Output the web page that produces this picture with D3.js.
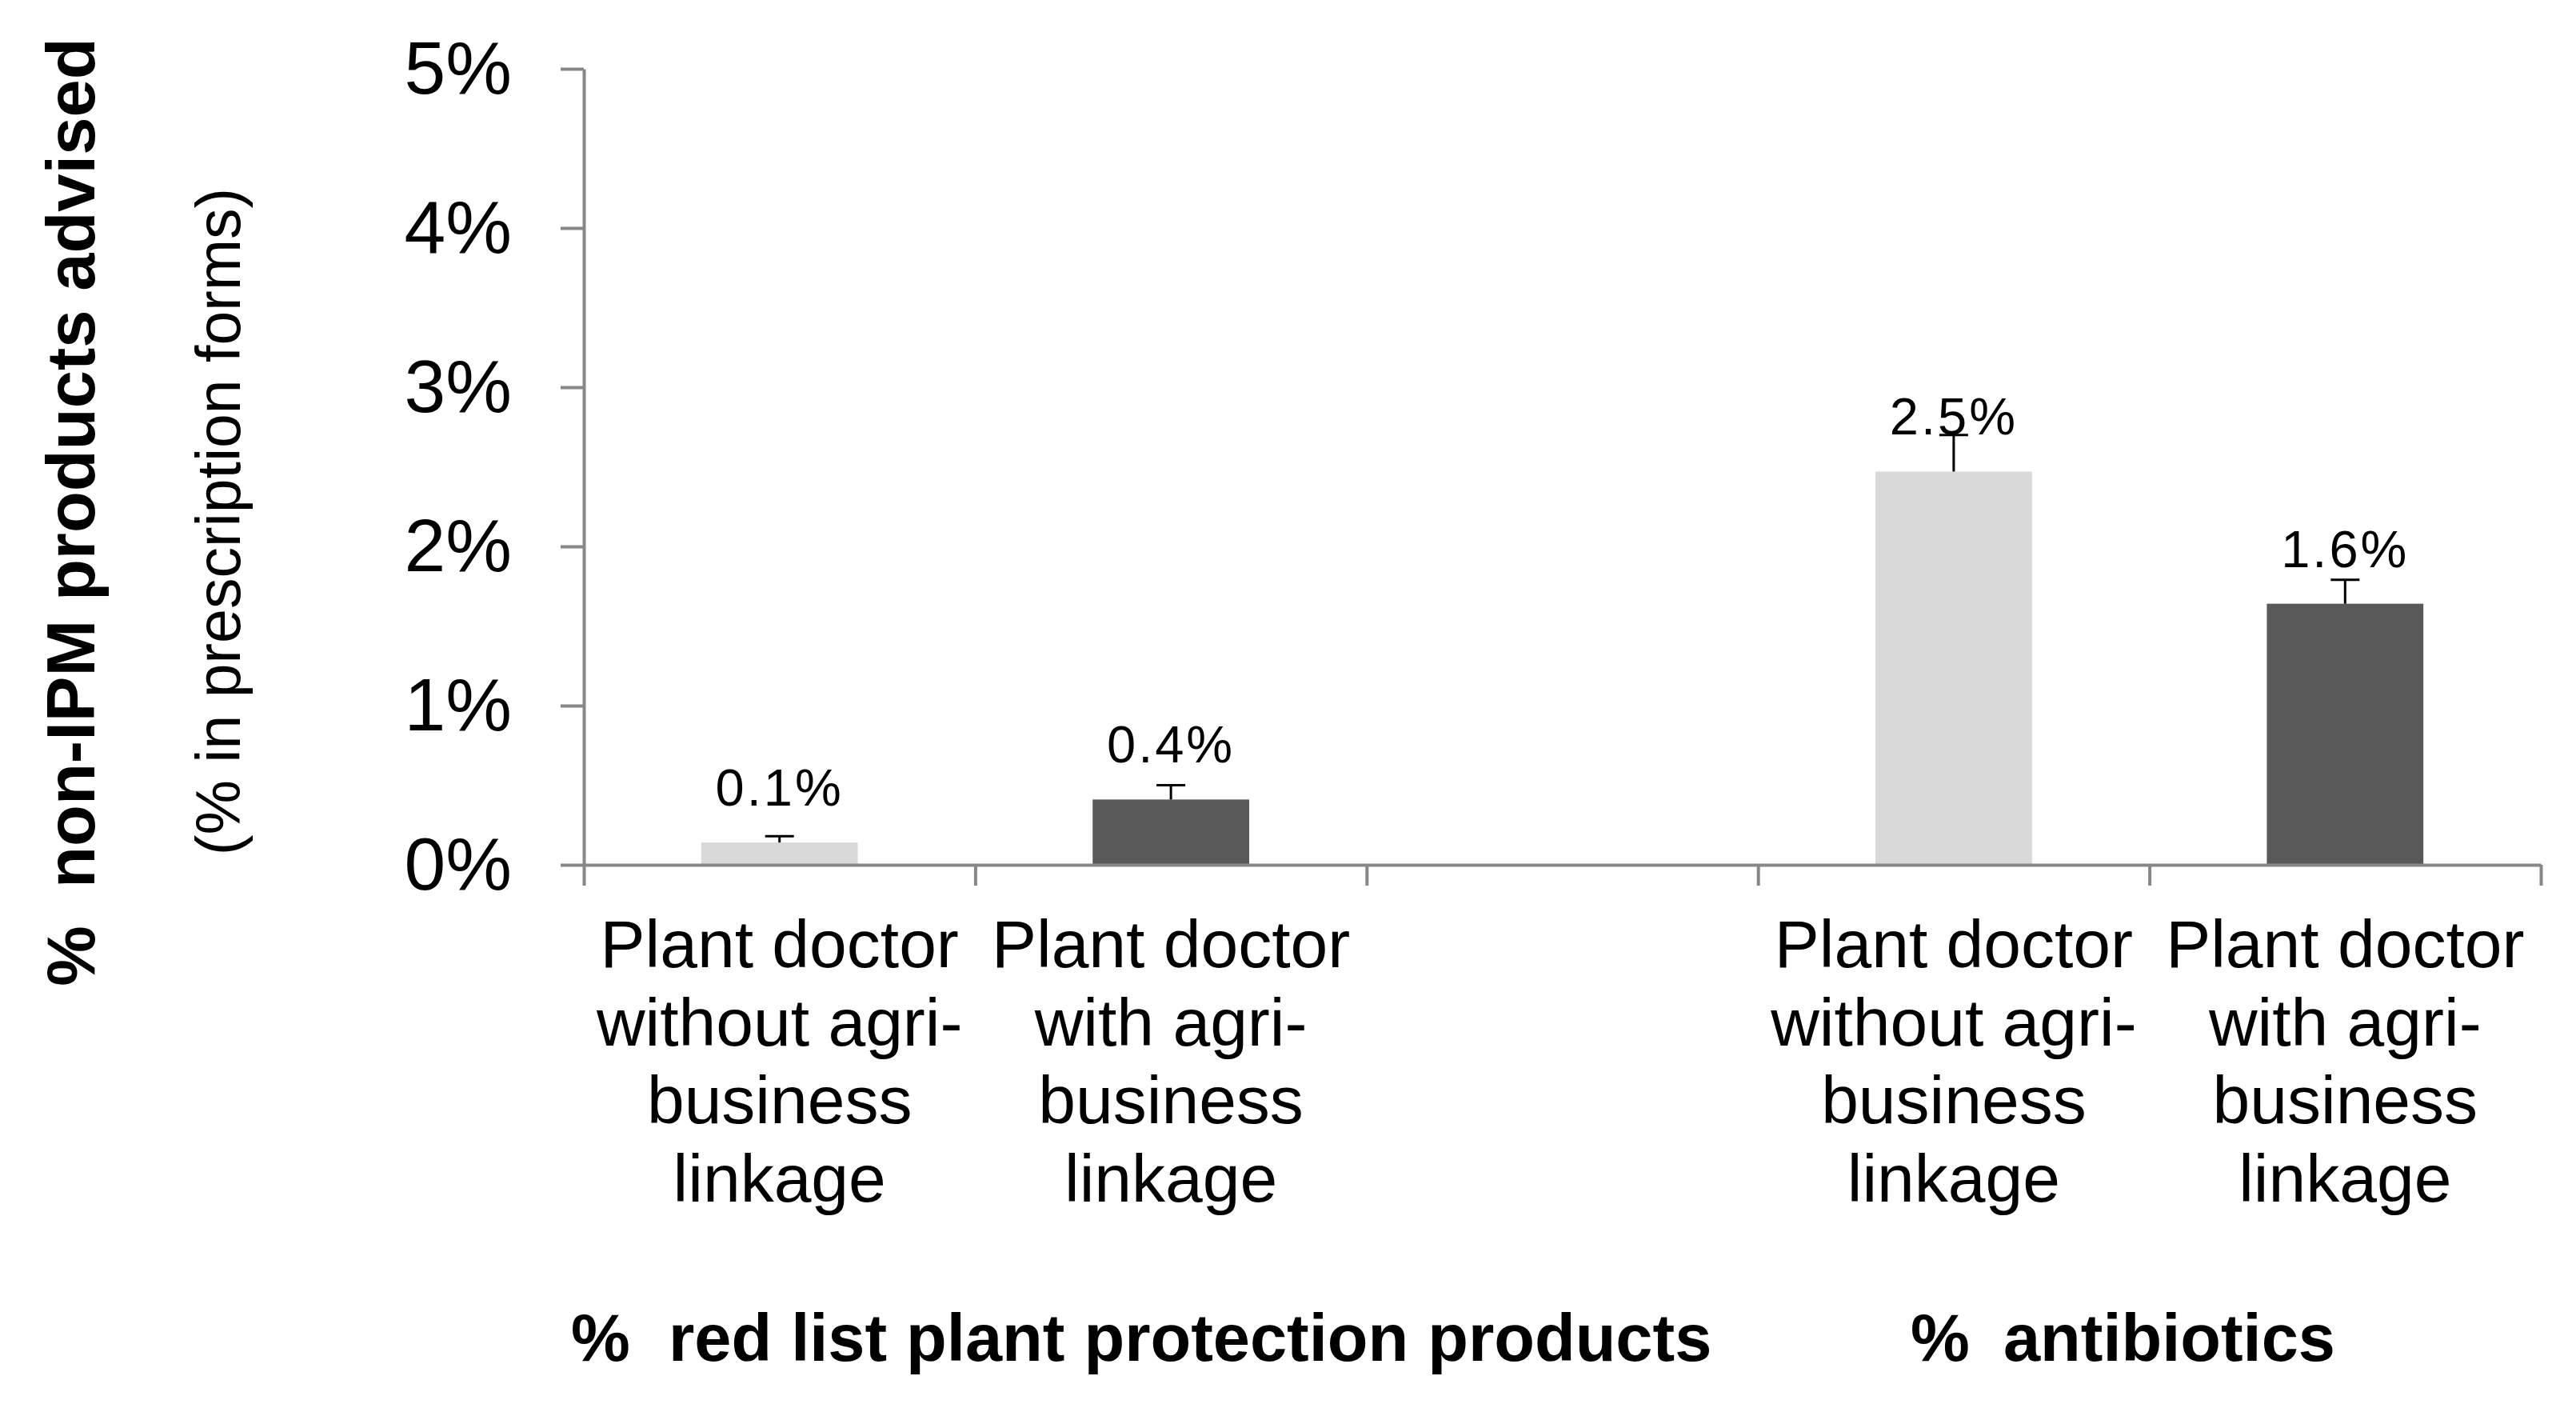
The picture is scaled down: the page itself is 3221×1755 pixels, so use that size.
<!DOCTYPE html>
<html>
<head>
<meta charset="utf-8">
<script src="https://cdn.jsdelivr.net/npm/d3@7"></script>
<style>
  body { margin: 0; background: #fff; }
  text { font-family: "Liberation Sans", Arial, sans-serif; fill: #000; }
  .pre { white-space: pre; }
</style>
</head>
<body>
<script>
// chart values (as fractions)
const categories = ['c1', 'c2', 'gap', 'c4', 'c5'];
const catLabels = [
  ['Plant doctor', 'without agri-', 'business', 'linkage'],
  ['Plant doctor', 'with agri-', 'business', 'linkage'],
  [],
  ['Plant doctor', 'without agri-', 'business', 'linkage'],
  ['Plant doctor', 'with agri-', 'business', 'linkage']
];
const barCats = ['c1', 'c2', 'c4', 'c5'];
const values = [0.0014, 0.0041, 0.0247, 0.0164];
const errors = [0.0004, 0.0009, 0.0023, 0.0015];
const valueLabels = ['0.1%', '0.4%', '2.5%', '1.6%'];
const yTicks = [0, 0.01, 0.02, 0.03, 0.04, 0.05];
const groupTitles = ['%  red list plant protection products', '%  antibiotics'];

const W = 3221, H = 1755;
const margin = {left: 730, right: 3177, top: 86, bottom: 1081};

const svg = d3.select('body').append('svg')
  .attr('width', W)
  .attr('height', H);

const x = d3.scaleBand()
  .domain(categories)
  .range([margin.left, margin.right])
  .paddingInner(0.6)
  .paddingOuter(0.3);

const y = d3.scaleLinear()
  .domain([0, 0.05])
  .range([margin.bottom, margin.top]);

const color = d3.scaleOrdinal()
  .domain(barCats)
  .range(['#d9d9d9', '#595959', '#d9d9d9', '#595959']);

// bars
const data = barCats.map((c, i) => ({cat: c, v: values[i], e: errors[i], label: valueLabels[i]}));

svg.selectAll('.bar').data(data).enter().append('rect')
  .attr('class', 'bar')
  .attr('x', (d) => x(d.cat))
  .attr('width', x.bandwidth())
  .attr('y', (d) => y(d.v))
  .attr('height', (d) => y(0) - y(d.v))
  .attr('fill', (d) => color(d.cat));

// error bars (upper only)
const err = svg.selectAll('.err').data(data).enter().append('g')
  .attr('class', 'err')
  .attr('transform', (d) => `translate(${x(d.cat) + x.bandwidth() / 2},0)`);
err.append('line')
  .attr('y1', (d) => y(d.v))
  .attr('y2', (d) => y(d.v + d.e))
  .attr('stroke', '#000').attr('stroke-width', 3);
err.append('line')
  .attr('x1', -18).attr('x2', 18)
  .attr('y1', (d) => y(d.v + d.e))
  .attr('y2', (d) => y(d.v + d.e))
  .attr('stroke', '#000').attr('stroke-width', 3);

// value labels
svg.selectAll('.vlabel').data(data).enter().append('text')
  .attr('class', 'vlabel')
  .attr('x', (d) => x(d.cat) + x.bandwidth() / 2)
  .attr('y', (d) => y(d.v) - 46)
  .attr('text-anchor', 'middle')
  .style('font-size', '65px')
  .style('letter-spacing', '3px')
  .text((d) => d.label);

// y axis
const yAxis = svg.append('g')
  .attr('transform', `translate(${margin.left},0)`)
  .call(d3.axisLeft(y)
    .tickValues(yTicks)
    .tickFormat(d3.format('.0%'))
    .tickSize(29)
    .tickSizeOuter(0)
    .tickPadding(61));
yAxis.selectAll('path, line').attr('stroke', '#878787').attr('stroke-width', 4);
yAxis.selectAll('text')
  .style('font-size', '93px')
  .attr('dy', '0.33em');

// x axis with ticks between categories
const xb = d3.scaleLinear().domain([0, categories.length]).range([margin.left, margin.right]);
const xAxis = svg.append('g')
  .attr('transform', `translate(0,${margin.bottom})`)
  .call(d3.axisBottom(xb)
    .tickValues(d3.range(categories.length + 1))
    .tickFormat('')
    .tickSize(26)
    .tickSizeOuter(0));
xAxis.selectAll('path, line').attr('stroke', '#878787').attr('stroke-width', 4);

// category labels
const cl = svg.selectAll('.clabel').data(categories).enter().append('text')
  .attr('class', 'clabel')
  .attr('text-anchor', 'middle')
  .style('font-size', '84px');
cl.selectAll('tspan').data((d, i) => catLabels[i].map((t) => ({t, c: d}))).enter().append('tspan')
  .attr('x', (d) => x(d.c) + x.bandwidth() / 2)
  .attr('y', (d, j) => 1209 + j * 97.7)
  .text((d) => d.t);

// group titles
svg.selectAll('.gtitle').data(groupTitles).enter().append('text')
  .attr('class', 'gtitle pre')
  .attr('x', (d, i) => [714, 2389][i])
  .attr('y', 1701)
  .style('font-size', '83px')
  .style('font-weight', 'bold')
  .style('word-spacing', (d, i) => ['1px', '-2px'][i])
  .text((d) => d);

// y titles
svg.append('text')
  .attr('class', 'pre')
  .attr('transform', 'translate(118,640) rotate(-90)')
  .attr('text-anchor', 'middle')
  .style('font-size', '85px')
  .style('font-weight', 'bold')
  .text('%  non-IPM products advised');

svg.append('text')
  .attr('transform', 'translate(300,652) rotate(-90)')
  .attr('text-anchor', 'middle')
  .style('font-size', '77px')
  .text('(% in prescription forms)');
</script>
</body>
</html>
